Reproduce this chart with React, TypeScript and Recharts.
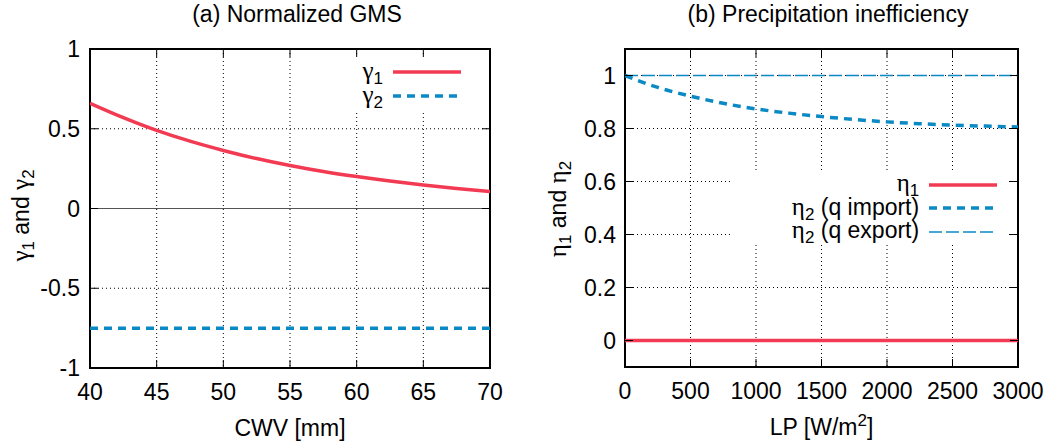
import React from "react";
import {
  CartesianGrid,
  Label,
  Legend,
  Line,
  LineChart,
  ReferenceArea,
  ReferenceLine,
  XAxis,
  YAxis,
} from "recharts";

// (a) normalized GMS vs CWV
const cwv = [40, 42.5, 45, 47.5, 50, 52.5, 55, 57.5, 60, 62.5, 65, 67.5, 70];
const gamma1 = [0.66, 0.57, 0.49, 0.422, 0.364, 0.313, 0.27, 0.232, 0.2, 0.172, 0.148, 0.126, 0.106];
const gamma2 = [-0.75, -0.75, -0.75, -0.75, -0.75, -0.75, -0.75, -0.75, -0.75, -0.75, -0.75, -0.75, -0.75];
const cwvTicks = [40, 45, 50, 55, 60, 65, 70];
const gammaTicks = [-1, -0.5, 0, 0.5, 1];

// (b) precipitation inefficiency vs LP
const lp = [0, 250, 500, 750, 1000, 1250, 1500, 1750, 2000, 2250, 2500, 2750, 3000];
const eta1 = [0, 0, 0, 0, 0, 0, 0, 0, 0, 0, 0, 0, 0];
const eta2Import = [1.0, 0.955, 0.922, 0.895, 0.874, 0.858, 0.845, 0.834, 0.825, 0.818, 0.813, 0.809, 0.806];
const eta2Export = [1, 1, 1, 1, 1, 1, 1, 1, 1, 1, 1, 1, 1];
const lpTicks = [0, 500, 1000, 1500, 2000, 2500, 3000];
const etaTicks = [0, 0.2, 0.4, 0.6, 0.8, 1];

const RED = "#f23b53";
const BLUE = "#0b89c4";
const SANS = "'Liberation Sans', Arial, sans-serif";
const SERIF = "'Liberation Serif', 'Times New Roman', serif";
const FS = 23;
const GREEK = 25;
const SUB = 17;
const TICK = 8;

const seriesStyle: Record<string, { color: string; dash?: string; width: number; greek: string; sub: string; rest: string }> = {
  g1: { color: RED, width: 3.5, greek: "γ", sub: "1", rest: "" },
  g2: { color: BLUE, dash: "8 6", width: 3.5, greek: "γ", sub: "2", rest: "" },
  e1: { color: RED, width: 3.5, greek: "η", sub: "1", rest: "" },
  e2i: { color: BLUE, dash: "8 6", width: 3.5, greek: "η", sub: "2", rest: " (q import)" },
  e2e: { color: BLUE, dash: "13 4", width: 1.6, greek: "η", sub: "2", rest: " (q export)" },
};

const dataA = cwv.map((x, i) => ({ x, g1: gamma1[i], g2: gamma2[i] }));
const dataB = lp.map((x, i) => ({ x, e1: eta1[i], e2i: eta2Import[i], e2e: eta2Export[i] }));

const makeXTick = (plotH: number) => (props: any) => {
  const { x, y, payload } = props;
  return (
    <g>
      <line x1={x} x2={x} y1={y} y2={y - TICK} stroke="#000" />
      <line x1={x} x2={x} y1={y - plotH} y2={y - plotH + TICK} stroke="#000" />
      <text x={x} y={y + 32} textAnchor="middle" fontSize={FS} fontFamily={SANS} fill="#000">
        {payload.value}
      </text>
    </g>
  );
};

const makeYTick = (plotW: number, gap: number) => (props: any) => {
  const { x, y, payload } = props;
  return (
    <g>
      <line x1={x} x2={x + TICK} y1={y} y2={y} stroke="#000" />
      <line x1={x + plotW} x2={x + plotW - TICK} y1={y} y2={y} stroke="#000" />
      <text x={x - gap} y={y + 8} textAnchor="end" fontSize={FS} fontFamily={SANS} fill="#000">
        {payload.value}
      </text>
    </g>
  );
};

const renderLegend = (keys: string[], textW: number, rowH: number) => () => (
  <div style={{ fontFamily: SANS, fontSize: FS, color: "#000" }}>
    {keys.map((k) => {
      const s = seriesStyle[k];
      return (
        <div key={k} style={{ display: "flex", alignItems: "center", height: rowH }}>
          <div style={{ width: textW, textAlign: "right", whiteSpace: "nowrap", lineHeight: "18px" }}>
            <span style={{ fontFamily: SERIF, fontSize: GREEK }}>{s.greek}</span>
            <span style={{ fontSize: SUB, position: "relative", top: 5 }}>{s.sub}</span>
            <span>{s.rest}</span>
          </div>
          <svg width={78} height={10} style={{ marginLeft: 10 }}>
            <line x1={0} x2={68} y1={5} y2={5} stroke={s.color} strokeWidth={s.width} strokeDasharray={s.dash} />
          </svg>
        </div>
      );
    })}
  </div>
);

const YTitle = (props: any) => {
  const { viewBox, dx, dyc, letter } = props;
  const cx = viewBox.x + dx;
  const cy = viewBox.y + viewBox.height / 2 + dyc;
  return (
    <text
      x={cx}
      y={cy}
      transform={`rotate(-90 ${cx} ${cy})`}
      textAnchor="middle"
      fontSize={FS}
      fontFamily={SANS}
      fill="#000"
      dy={7}
    >
      <tspan fontFamily={SERIF} fontSize={GREEK}>{letter}</tspan>
      <tspan fontSize={SUB} dy={5}>1</tspan>
      <tspan dy={-5}> and </tspan>
      <tspan fontFamily={SERIF} fontSize={GREEK}>{letter}</tspan>
      <tspan fontSize={SUB} dy={5}>2</tspan>
    </text>
  );
};

const XTitle = (props: any) => {
  const { viewBox, children } = props;
  return (
    <text x={viewBox.x + viewBox.width / 2} y={viewBox.y + 68} textAnchor="middle" fontSize={FS} fontFamily={SANS} fill="#000">
      {children}
    </text>
  );
};

const titleStyle = (cx: number): React.CSSProperties => ({
  position: "absolute",
  left: cx - 200,
  width: 400,
  top: 1,
  textAlign: "center",
  fontFamily: SANS,
  fontSize: FS,
  color: "#000",
});

export default function App() {
  const hA = 319;
  const hB = 318;
  return (
    <div style={{ position: "absolute", left: 0, top: 0, width: 1063, height: 445, background: "#fff" }}>
      <div style={titleStyle(297)}>(a) Normalized GMS</div>
      <div style={titleStyle(828)}>(b) Precipitation inefficiency</div>

      <div style={{ position: "absolute", left: 0, top: 0 }}>
        <LineChart width={531} height={445} data={dataA} margin={{ top: 49, right: 41, left: 0, bottom: 0 }}>
          <CartesianGrid stroke="#000" strokeDasharray="1 3" />
          <XAxis
            dataKey="x"
            type="number"
            domain={[40, 70]}
            ticks={cwvTicks}
            height={77}
            axisLine={false}
            tickLine={false}
            tickSize={0}
            tickMargin={0}
            tick={makeXTick(hA)}
            allowDataOverflow
          >
            <Label content={(p: any) => <XTitle {...p}>CWV [mm]</XTitle>} />
          </XAxis>
          <YAxis
            type="number"
            domain={[-1, 1]}
            ticks={gammaTicks}
            width={90}
            axisLine={false}
            tickLine={false}
            tickSize={0}
            tickMargin={0}
            tick={makeYTick(400, 10)}
            allowDataOverflow
          >
            <Label content={(p: any) => <YTitle {...p} dx={22} dyc={7} letter="γ" />} />
          </YAxis>
          <ReferenceLine y={0} stroke="#555" strokeWidth={1.2} />
          <Line dataKey="g1" name="g1" type="monotone" stroke={RED} strokeWidth={3.5} dot={false} isAnimationActive={false} />
          <Line dataKey="g2" name="g2" type="monotone" stroke={BLUE} strokeWidth={3.5} strokeDasharray="8 6" dot={false} isAnimationActive={false} />
          <ReferenceArea x1={40} x2={70} y1={-1} y2={1} fill="none" fillOpacity={0} stroke="#000" strokeWidth={2} ifOverflow="visible" />
          <Legend
            layout="horizontal"
            verticalAlign="middle"
            align="center"
            content={renderLegend(["g1", "g2"], 35, 24)}
            wrapperStyle={{ left: 348, top: 57, width: 125, height: 51, paddingTop: 3, background: "#fff" }}
          />
        </LineChart>
      </div>

      <div style={{ position: "absolute", left: 531, top: 0 }}>
        <LineChart width={532} height={445} data={dataB} margin={{ top: 49, right: 45, left: 0, bottom: 0 }}>
          <CartesianGrid stroke="#000" strokeDasharray="1 3" />
          <XAxis
            dataKey="x"
            type="number"
            domain={[0, 3000]}
            ticks={lpTicks}
            height={78}
            axisLine={false}
            tickLine={false}
            tickSize={0}
            tickMargin={0}
            tick={makeXTick(hB)}
            allowDataOverflow
          >
            <Label
              content={(p: any) => (
                <XTitle {...p}>
                  <tspan>LP [W/m</tspan>
                  <tspan fontSize={SUB} dy={-9}>2</tspan>
                  <tspan dy={9}>]</tspan>
                </XTitle>
              )}
            />
          </XAxis>
          <YAxis
            type="number"
            domain={[-0.1, 1.1]}
            ticks={etaTicks}
            width={94}
            axisLine={false}
            tickLine={false}
            tickSize={0}
            tickMargin={0}
            tick={makeYTick(393, 9)}
            allowDataOverflow
          >
            <Label content={(p: any) => <YTitle {...p} dx={28} dyc={1} letter="η" />} />
          </YAxis>
          <Line dataKey="e1" name="e1" type="monotone" stroke={RED} strokeWidth={3.5} dot={false} isAnimationActive={false} />
          <Line dataKey="e2i" name="e2i" type="monotone" stroke={BLUE} strokeWidth={3.5} strokeDasharray="8 6" dot={false} isAnimationActive={false} />
          <Line dataKey="e2e" name="e2e" type="monotone" stroke={BLUE} strokeWidth={1.6} strokeDasharray="13 4" dot={false} isAnimationActive={false} />
          <ReferenceArea x1={0} x2={3000} y1={-0.1} y2={1.1} fill="none" fillOpacity={0} stroke="#000" strokeWidth={2} ifOverflow="visible" />
          <Legend
            layout="horizontal"
            verticalAlign="middle"
            align="center"
            content={renderLegend(["e1", "e2i", "e2e"], 189, 23.5)}
            wrapperStyle={{ left: 202, top: 173, width: 273, height: 71, paddingTop: 0, background: "#fff" }}
          />
        </LineChart>
      </div>
    </div>
  );
}
